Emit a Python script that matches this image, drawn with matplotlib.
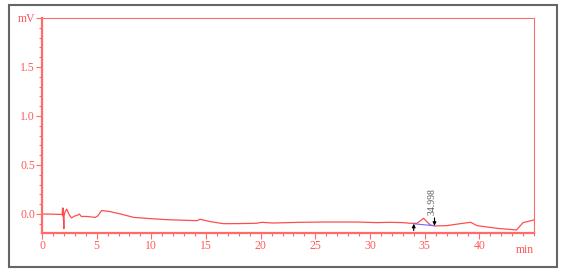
import matplotlib
matplotlib.use('Agg')
import matplotlib.pyplot as plt
from matplotlib.patches import Rectangle
from matplotlib.ticker import MultipleLocator

# chromatogram trace (time in min, signal in mV)
time_min = [0.0, 1.0, 1.85, 1.88, 1.9, 1.92, 1.95, 2.0, 2.02, 2.1, 2.26, 2.5, 2.7,
            3.0, 3.2, 3.4, 3.6, 4.0, 4.5, 4.85, 5.1, 5.45, 6.2, 7.0, 8.4, 10.0,
            11.4, 13.0, 14.2, 14.45, 15.4, 16.6, 18.0, 19.6, 20.1, 21.1, 23.6,
            25.7, 28.8, 30.6, 31.8, 33.0, 33.7, 34.3, 34.9, 35.5, 35.95, 37.0,
            38.5, 39.2, 39.8, 41.6, 43.4, 44.0, 45.0]
signal_mv = [0.0, -0.002, -0.005, 0.06, -0.02, 0.06, -0.02, -0.15, -0.02, 0.02,
             0.05, -0.01, -0.04, -0.02, -0.015, 0.0, -0.025, -0.025, -0.03,
             -0.035, -0.02, 0.035, 0.025, 0.005, -0.035, -0.048, -0.058, -0.064,
             -0.068, -0.054, -0.078, -0.099, -0.098, -0.095, -0.085, -0.092,
             -0.085, -0.082, -0.082, -0.088, -0.085, -0.088, -0.095, -0.095,
             -0.044, -0.112, -0.122, -0.119, -0.095, -0.085, -0.119, -0.146,
             -0.163, -0.088, -0.061]

# integrated peak
peak_rt = 34.998
baseline_t = [34.0, 35.9]
baseline_v = [-0.10, -0.12]

RED = '#ff6b6b'
TXT = '#ff5a5a'

plt.rcParams['font.family'] = ['Liberation Serif', 'DejaVu Serif']

fig = plt.figure(figsize=(5.73, 2.76), dpi=100)
fig.patches.append(Rectangle((9 / 573, 1 - 267 / 276), 548 / 573, 262 / 276,
                             transform=fig.transFigure, fill=False,
                             edgecolor='#666666', linewidth=1.5))

ax = fig.add_axes([42 / 573, 1 - 233 / 276, 492 / 573, 215 / 276])
ax.plot(time_min, signal_mv, color='#ff4d4d', linewidth=0.9)
ax.plot(baseline_t, baseline_v, color='#6b6bff', linewidth=0.8)

# start / end markers of the integration
ax.annotate('', xy=(baseline_t[0], baseline_v[0]), xytext=(baseline_t[0], -0.17),
            arrowprops=dict(arrowstyle='-|>', color='black', lw=0.8,
                            mutation_scale=5, shrinkA=0, shrinkB=0))
ax.annotate('', xy=(baseline_t[1], baseline_v[1]), xytext=(baseline_t[1], -0.04),
            arrowprops=dict(arrowstyle='-|>', color='black', lw=0.8,
                            mutation_scale=5, shrinkA=0, shrinkB=0))
ax.text(35.65, -0.01, f'{peak_rt:.3f}', rotation=90, ha='center', va='bottom',
        fontsize=7, color='#555555')

ax.set_xlim(0, 45)
ax.set_ylim(-0.194, 2.0)
ax.xaxis.set_major_locator(MultipleLocator(5))
ax.xaxis.set_minor_locator(MultipleLocator(1))
ax.yaxis.set_major_locator(MultipleLocator(0.5))
ax.yaxis.set_minor_locator(MultipleLocator(0.1))
ax.set_xticks([0, 5, 10, 15, 20, 25, 30, 35, 40])
ax.set_yticks([0.0, 0.5, 1.0, 1.5, 2.0])
ax.set_yticklabels(['0.0', '0.5', '1.0', '1.5', 'mV'])

for side in ['left', 'bottom']:
    ax.spines[side].set_color(RED)
    ax.spines[side].set_linewidth(1.6)
for side in ['top', 'right']:
    ax.spines[side].set_color(RED)
    ax.spines[side].set_linewidth(0.8)

ax.tick_params(which='both', direction='out', color=RED, labelcolor=TXT,
               labelsize=8.5, width=0.8, pad=1)
ax.tick_params(which='major', length=4)
ax.tick_params(which='minor', length=2.5)

ax.text(1.0, -0.05, 'min', transform=ax.transAxes, ha='right', va='top',
        fontsize=8.5, color=TXT)

fig.savefig('out.png', dpi=100)
